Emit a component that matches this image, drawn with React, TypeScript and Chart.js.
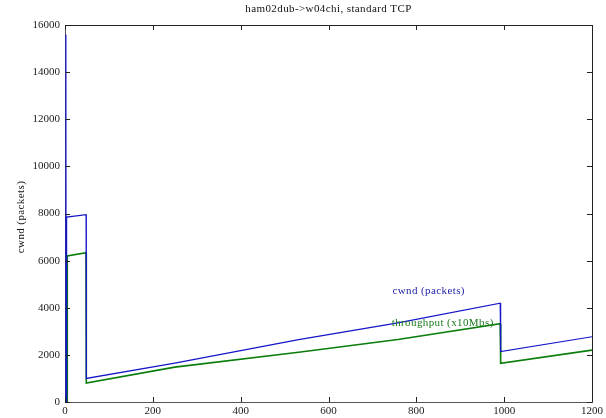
import React, { useEffect, useRef } from "react";
import { Chart, registerables } from "chart.js";

Chart.register(...registerables);

const titleText = "ham02dub->w04chi, standard TCP";
const yAxisLabel = "cwnd (packets)";
const cwndLabel = "cwnd (packets)";
const thrLabel = "throughput (x10Mbs)";

const xTicks = [0, 200, 400, 600, 800, 1000, 1200];
const yTicks = [0, 2000, 4000, 6000, 8000, 10000, 12000, 14000, 16000];

const cwndX = [1.5, 2, 2.5, 3, 3.5, 4.5, 48, 48.5, 250, 532, 758, 991, 992, 1200];
const cwndY = [0, 15600, 0, 600, 0, 7850, 7950, 1000, 1650, 2650, 3360, 4190, 2140, 2770];

const thrX = [3, 5, 5.2, 48, 48.5, 250, 532, 758, 991, 992, 1200];
const thrY = [0, 0, 6200, 6340, 800, 1480, 2110, 2650, 3320, 1640, 2200];

// annotation anchors in data units
const cwndLabelPos = [828, 4700];
const thrLabelPos = [860, 3350];

const FONT = "'Liberation Serif', 'DejaVu Serif', serif";

export default function App() {
  const ref = useRef<HTMLCanvasElement | null>(null);

  useEffect(() => {
    if (!ref.current) return;
    const textPlugin = {
      id: "matlabDecor",
      afterDraw(chart: any) {
        const ctx = chart.ctx as CanvasRenderingContext2D;
        const a = chart.chartArea;
        const xs = chart.scales.x;
        const ys = chart.scales.y;
        ctx.save();
        // box
        ctx.strokeStyle = "#222";
        ctx.lineWidth = 1;
        ctx.beginPath();
        ctx.moveTo(a.left, a.top + 0.5);
        ctx.lineTo(a.right + 0.5, a.top + 0.5);
        ctx.lineTo(a.right + 0.5, a.bottom);
        ctx.stroke();
        // inward ticks
        const tl = 5;
        ctx.beginPath();
        xTicks.forEach((v) => {
          const px = Math.round(xs.getPixelForValue(v)) + 0.5;
          ctx.moveTo(px, a.bottom);
          ctx.lineTo(px, a.bottom - tl);
          ctx.moveTo(px, a.top);
          ctx.lineTo(px, a.top + tl);
        });
        yTicks.forEach((v) => {
          const py = Math.round(ys.getPixelForValue(v)) + 0.5;
          ctx.moveTo(a.left, py);
          ctx.lineTo(a.left + tl, py);
          ctx.moveTo(a.right, py);
          ctx.lineTo(a.right - tl, py);
        });
        ctx.stroke();

        (ctx as any).letterSpacing = "0.4px";
        ctx.font = `11px ${FONT}`;
        ctx.textAlign = "center";
        ctx.textBaseline = "middle";
        // title
        ctx.fillStyle = "#111";
        ctx.fillText(titleText, (a.left + a.right) / 2, 9);
        // annotations
        ctx.fillStyle = "#1c1ca8";
        ctx.fillText(cwndLabel, xs.getPixelForValue(cwndLabelPos[0]), ys.getPixelForValue(cwndLabelPos[1]));
        ctx.fillStyle = "#1a7a1a";
        ctx.fillText(thrLabel, xs.getPixelForValue(thrLabelPos[0]), ys.getPixelForValue(thrLabelPos[1]));
        // y label
        ctx.fillStyle = "#111";
        ctx.translate(21, 217);
        ctx.rotate(-Math.PI / 2);
        ctx.fillText(yAxisLabel, 0, 0);
        ctx.restore();
      },
    };

    const chart = new Chart(ref.current, {
      type: "scatter",
      data: {
        datasets: [
          {
            label: "cwnd",
            data: cwndX.map((x, i) => ({ x, y: cwndY[i] })),
            showLine: true,
            borderColor: "#1515c8",
            borderWidth: 1.2,
            pointRadius: 0,
            tension: 0,
          },
          {
            label: "throughput",
            data: thrX.map((x, i) => ({ x, y: thrY[i] })),
            showLine: true,
            borderColor: "#0a7d0a",
            borderWidth: 1.6,
            pointRadius: 0,
            tension: 0,
          },
        ],
      },
      options: {
        animation: false,
        responsive: false,
        maintainAspectRatio: false,
        events: [],
        layout: { padding: { left: 0, right: 12, top: 25, bottom: 0 } },
        plugins: {
          legend: { display: false },
          tooltip: { enabled: false },
          title: { display: false },
        },
        scales: {
          x: {
            type: "linear",
            min: 0,
            max: 1200,
            afterBuildTicks: (s: any) => {
              s.ticks = xTicks.map((v) => ({ value: v }));
            },
            afterFit: (s: any) => {
              s.height = 16;
            },
            grid: { display: true, drawOnChartArea: false, drawTicks: false },
            border: { display: true, color: "#555", width: 1 },
            ticks: {
              padding: 3,
              color: "#222",
              font: { family: FONT, size: 11 },
              maxRotation: 0,
              autoSkip: false,
              callback: (v: any) => String(v),
            },
          },
          y: {
            type: "linear",
            min: 0,
            max: 16000,
            afterBuildTicks: (s: any) => {
              s.ticks = yTicks.map((v) => ({ value: v }));
            },
            afterFit: (s: any) => {
              s.width = 65;
            },
            grid: { display: true, drawOnChartArea: false, drawTicks: false },
            border: { display: true, color: "#555", width: 1 },
            ticks: {
              padding: 5,
              color: "#222",
              font: { family: FONT, size: 11 },
              autoSkip: false,
              callback: (v: any) => String(v),
            },
          },
        },
      },
      plugins: [textPlugin],
    });
    return () => chart.destroy();
  }, []);

  return (
    <div style={{ position: "absolute", left: 0, top: 0, width: 606, height: 418, background: "#fff" }}>
      <canvas ref={ref} width={606} height={418} style={{ width: 606, height: 418, display: "block" }} />
    </div>
  );
}
